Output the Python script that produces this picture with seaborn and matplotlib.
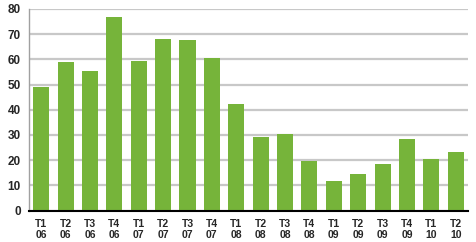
import matplotlib
matplotlib.use("Agg")
import matplotlib.pyplot as plt
import seaborn as sns
import pandas as pd
import numpy as np

quarters = ["T1", "T2", "T3", "T4", "T1", "T2", "T3", "T4", "T1", "T2", "T3", "T4",
            "T1", "T2", "T3", "T4", "T1", "T2"]
years = ["06", "06", "06", "06", "07", "07", "07", "07", "08", "08", "08", "08",
         "09", "09", "09", "09", "10", "10"]
values = [49.1, 59.0, 55.3, 77.0, 59.2, 68.2, 67.8, 60.4, 42.4, 29.2, 30.2, 19.6,
          11.6, 14.5, 18.6, 28.2, 20.4, 23.4]
yticks = [0, 10, 20, 30, 40, 50, 60, 70, 80]

labels = [f"{q}\n{y}" for q, y in zip(quarters, years)]
df = pd.DataFrame({"period": labels, "value": values})

sns.set_style("white")
plt.rcParams["font.family"] = ["Liberation Sans", "DejaVu Sans"]

fig = plt.figure(figsize=(4.76, 2.42), dpi=100)
ax = fig.add_axes([0.061, 0.130, 0.922, 0.833])

sns.barplot(data=df, x="period", y="value", color="#76b43a", saturation=1,
            width=0.66, ax=ax)
for p in ax.patches:
    p.set_zorder(3)
    p.set_edgecolor("none")

ax.set_ylim(0, 80)
ax.set_xlim(-0.5, len(values) - 0.5)
ax.set_yticks(yticks)
ax.set_yticklabels([str(t) for t in yticks], fontsize=8.5, fontweight="bold")
ax.yaxis.grid(True, color="#c8c8c8", linewidth=1.6)
for gl in ax.get_ygridlines():
    gl.set_zorder(1)
ax.set_xlabel("")
ax.set_ylabel("")
ax.tick_params(axis="x", which="major", length=0, pad=6, labelsize=7.5)
for t in ax.get_xticklabels():
    t.set_fontweight("bold")
ax.set_xticks(np.arange(-0.5, len(values), 1.0), minor=True)
ax.tick_params(axis="x", which="minor", length=4, width=1.2, color="black", direction="out")
ax.tick_params(axis="y", length=0, pad=6)

for s in ["top", "right"]:
    ax.spines[s].set_visible(False)
ax.spines["left"].set_color("#a0a0a0")
ax.spines["left"].set_linewidth(1.0)
ax.spines["bottom"].set_color("black")
ax.spines["bottom"].set_linewidth(1.5)
ax.spines["bottom"].set_zorder(5)

fig.savefig("out.png", dpi=100)
